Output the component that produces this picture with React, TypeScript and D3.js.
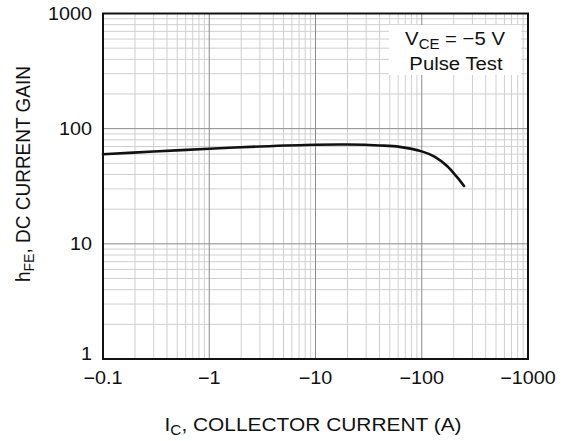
import { useEffect, useRef } from 'react'
import * as d3 from 'd3'

// hFE vs IC (magnitudes, A), VCE = -5 V
const currentA = [0.1, 0.3, 1, 3, 10, 20, 40, 62, 100, 133, 172, 213, 250]
const gainHfe = [60, 63.3, 67, 70, 72.5, 72.8, 71.5, 69.5, 63.5, 57, 47.6, 38.3, 31.8]

const xTickValues = [0.1, 1, 10, 100, 1000]
const xTickLabels = ['\u22120.1', '\u22121', '\u221210', '\u2212100', '\u22121000']
const yTickValues = [1, 10, 100, 1000]
const yTickLabels = ['1', '10', '100', '1000']

const FONT = 'Liberation Sans, Arial, Helvetica, sans-serif'
const SX = 1.1 // text in the reference is a bit wider than it is tall

export default function App() {
  const svgRef = useRef<SVGSVGElement>(null)

  useEffect(() => {
    if (!svgRef.current) return
    const svg = d3.select(svgRef.current)
    svg.selectAll('*').remove()

    const left = 103, right = 528, top = 13.5, bottom = 359

    const x = d3.scaleLog().domain([0.1, 1000]).range([left, right])
    const y = d3.scaleLog().domain([1, 1000]).range([bottom, top])

    svg.append('rect').attr('width', 564).attr('height', 441).attr('fill', '#fff')

    const grid = svg.append('g')
    const minorX: number[] = []
    const minorY: number[] = []
    xTickValues.slice(0, -1).forEach(d => { for (let k = 2; k <= 9; k++) minorX.push(d * k) })
    yTickValues.slice(0, -1).forEach(d => { for (let k = 2; k <= 9; k++) minorY.push(d * k) })

    grid.selectAll('.mx').data(minorX).enter().append('line')
      .attr('x1', d => x(d)).attr('x2', d => x(d)).attr('y1', top).attr('y2', bottom)
      .attr('stroke', '#cfcfcf').attr('stroke-width', 1)
    grid.selectAll('.my').data(minorY).enter().append('line')
      .attr('y1', d => y(d)).attr('y2', d => y(d)).attr('x1', left).attr('x2', right)
      .attr('stroke', '#cfcfcf').attr('stroke-width', 1)
    grid.selectAll('.Mx').data(xTickValues.slice(1, -1)).enter().append('line')
      .attr('x1', d => x(d)).attr('x2', d => x(d)).attr('y1', top).attr('y2', bottom)
      .attr('stroke', '#8a8a8a').attr('stroke-width', 1)
    grid.selectAll('.My').data(yTickValues.slice(1, -1)).enter().append('line')
      .attr('y1', d => y(d)).attr('y2', d => y(d)).attr('x1', left).attr('x2', right)
      .attr('stroke', '#8a8a8a').attr('stroke-width', 1)

    // legend box
    svg.append('rect').attr('x', 389).attr('y', 25).attr('width', 132).attr('height', 50).attr('fill', '#fff')
    const lt = svg.append('text').attr('transform', `translate(455,45) scale(1.07,1)`).attr('text-anchor', 'middle')
      .style('font-family', FONT).style('font-size', '19px').attr('fill', '#111')
    lt.append('tspan').text('V')
    lt.append('tspan').attr('dy', 4).style('font-size', '14px').text('CE')
    lt.append('tspan').attr('dy', -4).text(' = \u22125 V')
    svg.append('text').attr('transform', `translate(456,70) scale(1.07,1)`).attr('text-anchor', 'middle')
      .style('font-family', FONT).style('font-size', '19px').attr('fill', '#111').text('Pulse Test')

    // border
    svg.append('rect').attr('x', left).attr('y', top).attr('width', right - left).attr('height', bottom - top)
      .attr('fill', 'none').attr('stroke', '#111').attr('stroke-width', 2)

    // curve
    const pts = currentA.map((c, i) => [c, gainHfe[i]] as [number, number])
    const line = d3.line<[number, number]>().x(d => x(d[0])).y(d => y(d[1])).curve(d3.curveCatmullRom.alpha(0.5))
    svg.append('path').datum(pts).attr('d', line).attr('fill', 'none')
      .attr('stroke', '#111').attr('stroke-width', 2.6).attr('stroke-linecap', 'round')

    // tick labels
    svg.selectAll('.xt').data(xTickValues).enter().append('text')
      .attr('transform', d => `translate(${x(d)},384) scale(${SX},1)`).attr('text-anchor', 'middle')
      .style('font-family', FONT).style('font-size', '18px').attr('fill', '#111')
      .text((_, i) => xTickLabels[i])
    svg.selectAll('.yt').data(yTickValues).enter().append('text')
      .attr('transform', d => `translate(92,${(d === 1 ? y(d) - 6 : y(d)) + 6.5}) scale(${SX},1)`).attr('text-anchor', 'end')
      .style('font-family', FONT).style('font-size', '18px').attr('fill', '#111')
      .text((_, i) => yTickLabels[i])

    // axis titles
    const xt = svg.append('text').attr('transform', `translate(313,431) scale(${SX},1)`).attr('text-anchor', 'middle')
      .style('font-family', FONT).style('font-size', '19px').attr('fill', '#111')
    xt.append('tspan').text('I')
    xt.append('tspan').attr('dy', 4).style('font-size', '14px').text('C')
    xt.append('tspan').attr('dy', -4).text(', COLLECTOR CURRENT (A)')

    const yt = svg.append('text').attr('transform', 'translate(30,174) rotate(-90) scale(1,1.1)').attr('text-anchor', 'middle')
      .style('font-family', FONT).style('font-size', '19px').attr('fill', '#111')
    yt.append('tspan').text('h')
    yt.append('tspan').attr('dy', 4).style('font-size', '14px').text('FE')
    yt.append('tspan').attr('dy', -4).text(', DC CURRENT GAIN')
  }, [])

  return (
    <div style={{ position: 'absolute', left: 0, top: 0 }}>
      <svg ref={svgRef} width={564} height={441} style={{ display: 'block' }} />
    </div>
  )
}
